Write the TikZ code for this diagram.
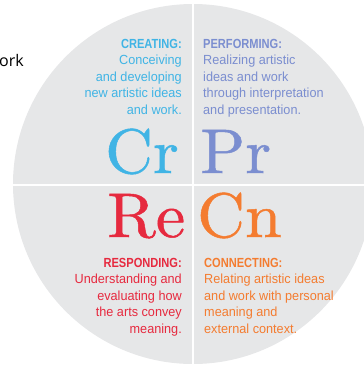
\documentclass[tikz,border=0pt]{standalone}
\usepackage{fontspec}
\newfontfamily\bodyfont[FakeStretch=0.96]{Liberation Sans}
\newfontfamily\headfont[FakeStretch=0.84]{Liberation Sans Bold}
\newfontfamily\bigserif[FakeStretch=1.05,FakeBold=0.8]{lmroman10-regular.otf}
\newfontfamily\sidefont{Open Sans}
\definecolor{circgray}{HTML}{E6E7E8}
\definecolor{crblue}{HTML}{40B4E5}
\definecolor{prblue}{HTML}{7B8ED0}
\definecolor{rered}{HTML}{E62A3F}
\definecolor{cnorange}{HTML}{F47C30}
\newcommand{\hd}[1]{{\headfont #1}}
\tikzset{
  block/.style={inner sep=0pt, font=\bodyfont\fontsize{13.2}{16.5}\selectfont},
  bigletters/.style={inner sep=0pt, anchor=base west, font=\bigserif\fontsize{63}{63}\selectfont},
  divider/.style={white, line width=2pt}
}
\begin{document}
\begin{tikzpicture}[x=1pt,y=-1pt]
\useasboundingbox (0,0) rectangle (364,368);
\begin{scope}
\clip (0,0) rectangle (364,368);
\fill[circgray] (193,184) circle[radius=180pt];
\draw[divider] (193,0) -- (193,368);
\draw[divider] (0,185) -- (364,185);
\end{scope}
\node[inner sep=0pt, anchor=base west, font=\sidefont\fontsize{16}{16}\selectfont] (side) at (-1,66) {ork};
% Creating
\node[block, anchor=base east, text=crblue] (cre) at (182,48)
  {\begin{tabular}[t]{@{}r@{}}\hd{CREATING:}\\Conceiving\\and developing\\new artistic ideas\\and work.\end{tabular}};
\node[bigletters, text=crblue] (cr) at (105,173) {Cr};
% Performing
\node[block, anchor=base west, text=prblue] (per) at (203,48)
  {\begin{tabular}[t]{@{}l@{}}\hd{PERFORMING:}\\Realizing artistic\\ideas and work\\through interpretation\\and presentation.\end{tabular}};
\node[bigletters, text=prblue] (pr) at (200,173) {Pr};
% Responding
\node[bigletters, text=rered] (re) at (107,237) {Re};
\node[block, anchor=base east, text=rered] (res) at (182,267)
  {\begin{tabular}[t]{@{}r@{}}\hd{RESPONDING:}\\Understanding and\\evaluating how\\the arts convey\\meaning.\end{tabular}};
% Connecting
\node[bigletters, text=cnorange] (cn) at (197,237) {Cn};
\node[block, anchor=base west, text=cnorange] (con) at (204,267)
  {\begin{tabular}[t]{@{}l@{}}\hd{CONNECTING:}\\Relating artistic ideas\\and work with personal\\meaning and\\external context.\end{tabular}};
\end{tikzpicture}
\end{document}
